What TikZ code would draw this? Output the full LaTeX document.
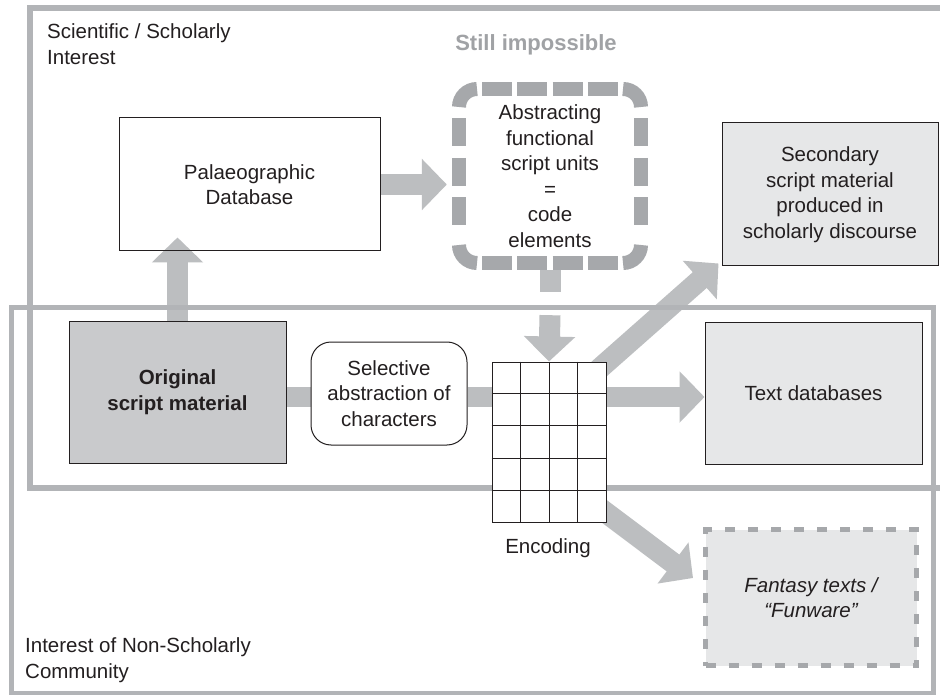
\documentclass[tikz,border=0pt]{standalone}
\usepackage{fontspec}
\setmainfont{Liberation Sans}
\usetikzlibrary{arrows.meta,calc}
\pgfdeclarelayer{back}
\pgfsetlayers{back,main}

\definecolor{ink}{HTML}{231F20}
\definecolor{framegray}{HTML}{B2B4B7}
\definecolor{arrowgray}{HTML}{BCBEC0}
\definecolor{dashgray}{HTML}{A6A8AB}
\definecolor{darkfill}{HTML}{C9CACC}
\definecolor{lightfill}{HTML}{E6E7E8}
\definecolor{titlegray}{HTML}{A0A2A5}

\begin{document}
\begin{tikzpicture}[x=1pt,y=-1pt,
  every node/.style={text=ink, font=\fontsize{20.5}{25.5}\selectfont, inner sep=0pt, align=center},
  box/.style={draw=ink, line width=1pt},
  fat/.style={draw=arrowgray, line width=21pt},
  fathead/.style={fat, -{Triangle[length=25pt,width=50pt]}},
  frame/.style={draw=framegray},
]
\useasboundingbox (0,0) rectangle (940,695);
\clip (0,0) rectangle (940,695);

% ---- boxes -------------------------------------------------------------
\node[box, minimum width=261pt, minimum height=133pt] (palaeo) at (249.5,184.5) {Palaeographic\\Database};
\node[minimum width=196pt, minimum height=188pt] (abstr) at (550,176)
  {Abstracting\\functional\\script units\\=\\code\\elements};
\node[box, fill=darkfill, minimum width=217pt, minimum height=142pt,
      font=\fontsize{20.5}{25.5}\selectfont\bfseries] (orig) at (177.5,392) {Original\\script material};
\node[box, fill=white, rounded corners=20pt, minimum width=156pt, minimum height=103pt] (sel)
  at (389,393.5) {Selective\\abstraction of\\characters};
\node[box, fill=white, minimum width=114pt, minimum height=160pt] (grid) at (549,442) {};
\node (enc) at (548,548) {Encoding};
\node[box, fill=lightfill, minimum width=217pt, minimum height=142pt] (textdb) at (813.5,393) {Text databases};
\node[box, fill=lightfill, minimum width=216pt, minimum height=143pt] (sec) at (830,194.5)
  {Secondary\\script material\\produced in\\scholarly discourse};
\node[fill=lightfill, draw=dashgray, line width=5pt, dash pattern=on 10pt off 13pt,
      minimum width=211pt, minimum height=136pt,
      font=\fontsize{20.5}{25.5}\selectfont\itshape] (fant) at (811,597.5) {Fantasy texts /\\“Funware”};

% ---- labels ------------------------------------------------------------
\node[anchor=west, align=left] (sci) at (47,44) {Scientific / Scholarly\\Interest};
\node[anchor=west, align=left] (nonsch) at (25,660) {Interest of Non-Scholarly\\Community};
\node[text=titlegray, font=\fontsize{22}{26}\selectfont\bfseries] (still) at (536,45) {Still impossible};

% ---- encoding table ----------------------------------------------------
\foreach \k in {1,2,3}
  \draw[ink, line width=1pt] ($(grid.north west)!\k/4!(grid.north east)$) -- ($(grid.south west)!\k/4!(grid.south east)$);
\foreach \k in {1,...,4}
  \draw[ink, line width=1pt] ($(grid.north west)!\k/5!(grid.south west)$) -- ($(grid.north east)!\k/5!(grid.south east)$);

% ---- heavy dashed rounded border of the abstraction box ----------------
\begin{scope}[shift={(abstr.center)}, draw=dashgray, line width=14pt]
  \draw[rounded corners=18pt] (-91,-69) -- (-91,-87) -- (-73,-87);
  \draw[rounded corners=18pt] (73,-87) -- (91,-87) -- (91,-69);
  \draw[rounded corners=18pt] (91,69) -- (91,87) -- (73,87);
  \draw[rounded corners=18pt] (-73,87) -- (-91,87) -- (-91,69);
  \foreach \i in {0,...,3} {
    \pgfmathsetmacro\xa{-67.8+35.2*\i}
    \draw (\xa,-87) -- ++(30,0);
    \draw (\xa,87) -- ++(30,0);
  }
  \foreach \i in {0,...,2} {
    \pgfmathsetmacro\ya{-57.5+39.5*\i}
    \draw (-91,\ya) -- ++(0,28);
    \draw (91,\ya) -- ++(0,28);
  }
\end{scope}

% ---- arrows and interest frames, behind the boxes ----------------------
\begin{pgfonlayer}{back}
  \fill[white] (0,0) rectangle (940,695);
  \coordinate (uptip) at ([yshift=14pt]palaeo.south);
  \draw[fathead] (orig.north) -- (uptip -| orig.north);
  \coordinate (rtip) at ([xshift=-5pt]abstr.west);
  \draw[fathead] (palaeo.east) -- (palaeo.east -| rtip);
  \draw[fat] (abstr.south) -- ++(0,22);
  \draw[fathead] ([yshift=-45pt]abstr.south) -- (grid.north);
  \coordinate (lane) at ([yshift=-5pt]orig.east);
  \draw[fat, line width=20pt] (lane) -- (lane -| sel.west);
  \draw[fat, line width=20pt] (lane -| sel.east) -- (lane -| grid.west);
  \draw[fathead, line width=20pt] (lane -| grid.east) -- (lane -| textdb.west);
  \draw[fathead] ([xshift=-8pt,yshift=-8pt]grid.north east) -- ([xshift=-3pt,yshift=3pt]sec.south west);
  \draw[fathead] ([xshift=-10pt,yshift=17pt]grid.south east) -- ([xshift=-10pt,yshift=-51pt]fant.north west);
  % interest areas
  \draw[frame, line width=6pt] (29.5,8.5) rectangle (960,487.5);
  \draw[frame, line width=5pt] (11.5,307.5) rectangle (933,693);
\end{pgfonlayer}
\end{tikzpicture}
\end{document}
